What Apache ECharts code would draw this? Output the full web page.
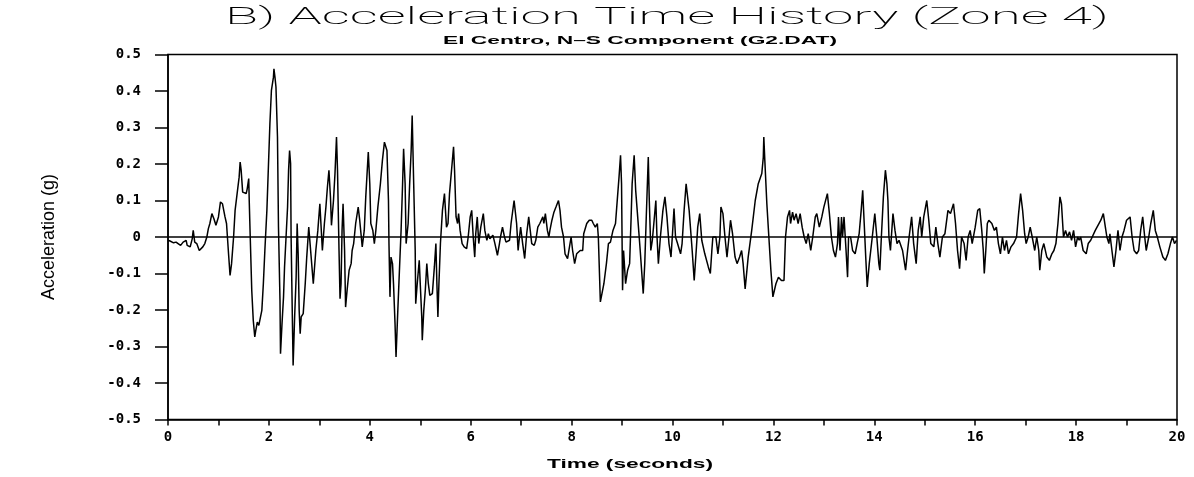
<!DOCTYPE html>
<html>
<head>
<meta charset="utf-8">
<title>Acceleration Time History</title>
<script src="https://cdn.jsdelivr.net/npm/echarts@6/dist/echarts.min.js"></script>
<style>
  html, body { margin: 0; padding: 0; background: #fff; }
  #chart { width: 1194px; height: 477px; }
</style>
</head>
<body>
<div id="chart"></div>
<script>
// El Centro 1940, N-S component: ground acceleration (g) vs time (s)
const timeSec = [
  0.00, 0.04, 0.11, 0.16, 0.20, 0.25, 0.30, 0.36, 0.38, 0.44, 0.48, 0.50, 0.53, 0.57, 0.62, 0.65, 0.69, 0.73, 0.77, 0.80, 0.83, 0.87, 0.91, 0.95,
  1.00, 1.04, 1.08, 1.13, 1.16, 1.20, 1.23, 1.26, 1.30, 1.33, 1.37, 1.41, 1.43, 1.45, 1.48, 1.51, 1.55, 1.57, 1.60, 1.61, 1.63, 1.66, 1.69, 1.72, 1.74, 1.77, 1.80, 1.82, 1.86, 1.89, 1.92, 1.96, 1.99,
  2.02, 2.05, 2.09, 2.10, 2.12, 2.14, 2.17, 2.19, 2.22, 2.23, 2.26, 2.29, 2.31, 2.34, 2.37, 2.39, 2.41, 2.43, 2.44, 2.47, 2.48, 2.51, 2.54, 2.56, 2.58, 2.60, 2.62, 2.64, 2.68, 2.72, 2.75, 2.79, 2.88, 2.93, 2.97,
  3.01, 3.06, 3.10, 3.13, 3.16, 3.19, 3.22, 3.24, 3.28, 3.31, 3.34, 3.36, 3.39, 3.41, 3.43, 3.45, 3.47, 3.50, 3.52, 3.55, 3.59, 3.63, 3.65, 3.68, 3.72, 3.77, 3.80, 3.85, 3.89, 3.92, 3.97,
  4.00, 4.02, 4.06, 4.09, 4.12, 4.16, 4.21, 4.25, 4.29, 4.31, 4.34, 4.37, 4.38, 4.40, 4.42, 4.45, 4.47, 4.50, 4.52, 4.55, 4.59, 4.62, 4.65, 4.67, 4.70, 4.72, 4.76, 4.79, 4.82, 4.84, 4.87, 4.90, 4.91, 4.94, 4.98,
  5.00, 5.03, 5.04, 5.07, 5.10, 5.13, 5.16, 5.19, 5.24, 5.28, 5.31, 5.33, 5.35, 5.37, 5.40, 5.44, 5.48, 5.52, 5.55, 5.58, 5.62, 5.66, 5.68, 5.71, 5.74, 5.76, 5.79, 5.83, 5.87, 5.92, 5.95, 5.99,
  6.02, 6.05, 6.08, 6.10, 6.13, 6.16, 6.20, 6.25, 6.28, 6.32, 6.35, 6.38, 6.44, 6.48, 6.53, 6.57, 6.59, 6.63, 6.67, 6.70, 6.77, 6.80, 6.86, 6.89, 6.91, 6.94, 6.96, 6.99,
  7.03, 7.07, 7.11, 7.15, 7.18, 7.21, 7.26, 7.29, 7.33, 7.37, 7.43, 7.45, 7.48, 7.52, 7.55, 7.57, 7.61, 7.65, 7.69, 7.74, 7.77, 7.80, 7.84, 7.87, 7.92, 7.95, 7.99,
  8.02, 8.06, 8.10, 8.17, 8.22, 8.24, 8.30, 8.35, 8.40, 8.43, 8.47, 8.51, 8.53, 8.57, 8.64, 8.69, 8.73, 8.77, 8.82, 8.87, 8.91, 8.94, 8.97, 8.99,
  9.01, 9.03, 9.07, 9.11, 9.15, 9.18, 9.20, 9.24, 9.27, 9.31, 9.36, 9.42, 9.45, 9.48, 9.52, 9.54, 9.57, 9.60, 9.63, 9.67, 9.69, 9.72, 9.76, 9.81, 9.85, 9.89, 9.93, 9.97,
  10.00, 10.03, 10.06, 10.10, 10.16, 10.19, 10.23, 10.27, 10.30, 10.33, 10.37, 10.39, 10.43, 10.47, 10.50, 10.54, 10.58, 10.64, 10.71, 10.75, 10.78, 10.80, 10.86, 10.90, 10.94, 10.96,
  11.00, 11.04, 11.08, 11.12, 11.15, 11.19, 11.24, 11.28, 11.33, 11.37, 11.40, 11.44, 11.50, 11.57, 11.64, 11.70, 11.77, 11.80, 11.81, 11.83, 11.87, 11.91, 11.95, 11.99,
  12.05, 12.10, 12.16, 12.21, 12.24, 12.28, 12.32, 12.34, 12.38, 12.41, 12.45, 12.49, 12.53, 12.57, 12.61, 12.65, 12.69, 12.74, 12.78, 12.83, 12.86, 12.91, 12.96,
  13.00, 13.07, 13.11, 13.15, 13.19, 13.23, 13.27, 13.29, 13.32, 13.35, 13.37, 13.40, 13.44, 13.47, 13.49, 13.53, 13.57, 13.62, 13.66, 13.70, 13.74, 13.77, 13.80, 13.83, 13.86, 13.90, 13.96,
  14.01, 14.05, 14.09, 14.11, 14.14, 14.18, 14.22, 14.25, 14.27, 14.29, 14.32, 14.37, 14.41, 14.45, 14.49, 14.56, 14.62, 14.66, 14.69, 14.74, 14.78, 14.83, 14.87, 14.91, 14.94, 14.98,
  15.04, 15.08, 15.12, 15.18, 15.22, 15.26, 15.30, 15.35, 15.40, 15.46, 15.51, 15.57, 15.61, 15.65, 15.69, 15.73, 15.78, 15.82, 15.86, 15.90, 15.94,
  16.00, 16.05, 16.09, 16.13, 16.16, 16.18, 16.21, 16.24, 16.27, 16.33, 16.38, 16.42, 16.46, 16.50, 16.54, 16.58, 16.62, 16.66, 16.71, 16.76, 16.82, 16.86, 16.90, 16.94, 16.98,
  17.01, 17.05, 17.09, 17.13, 17.18, 17.22, 17.26, 17.28, 17.32, 17.36, 17.42, 17.47, 17.52, 17.56, 17.60, 17.64, 17.68, 17.71, 17.75, 17.79, 17.83, 17.87, 17.91, 17.95, 17.99,
  18.03, 18.06, 18.09, 18.14, 18.20, 18.24, 18.29, 18.38, 18.49, 18.54, 18.58, 18.61, 18.65, 18.67, 18.71, 18.75, 18.79, 18.83, 18.87, 18.91, 18.95,
  19.00, 19.07, 19.11, 19.15, 19.20, 19.24, 19.28, 19.32, 19.36, 19.39, 19.44, 19.48, 19.53, 19.57, 19.61, 19.66, 19.72, 19.77, 19.82, 19.87, 19.91, 19.95, 19.99
];

const accelG = [
  -0.009, -0.011, -0.016, -0.014, -0.018, -0.023, -0.014, -0.009, -0.023, -0.027, -0.005, 0.018, -0.014, -0.018, -0.037, -0.041, -0.027, -0.018, 0.000, 0.023, 0.037, 0.064, 0.050, 0.032,
  0.055, 0.096, 0.091, 0.055, 0.037, -0.046, -0.105, -0.073, 0.000, 0.073, 0.119, 0.164, 0.205, 0.183, 0.123, 0.119, 0.119, 0.132, 0.160, 0.100, 0.000, -0.146, -0.228, -0.274, -0.256, -0.233, -0.242, -0.247, -0.201, -0.128, -0.037, 0.073, 0.192,
  0.311, 0.402, 0.438, 0.461, 0.438, 0.411, 0.274, 0.027, -0.174, -0.320, -0.237, -0.164, -0.082, 0.000, 0.082, 0.183, 0.237, 0.201, 0.000, -0.265, -0.352, -0.219, -0.110, 0.037, -0.046, -0.201, -0.265, -0.219, -0.210, -0.128, -0.055, 0.027, -0.128, -0.037, 0.018,
  0.091, -0.037, 0.037, 0.082, 0.137, 0.183, 0.110, 0.032, 0.100, 0.174, 0.274, 0.183, -0.037, -0.169, -0.128, 0.018, 0.091, -0.037, -0.192, -0.146, -0.091, -0.073, -0.037, -0.018, 0.037, 0.082, 0.046, -0.027, 0.018, 0.110, 0.233,
  0.146, 0.037, 0.018, -0.018, 0.018, 0.082, 0.146, 0.210, 0.260, 0.265, 0.237, 0.100, -0.018, -0.164, -0.055, -0.073, -0.128, -0.237, -0.329, -0.219, -0.082, 0.018, 0.146, 0.242, 0.146, -0.018, 0.037, 0.146, 0.237, 0.333, 0.146, -0.037, -0.183, -0.128, -0.064,
  -0.128, -0.219, -0.283, -0.201, -0.146, -0.073, -0.128, -0.160, -0.155, -0.082, -0.018, -0.128, -0.219, -0.128, -0.018, 0.073, 0.119, 0.027, 0.037, 0.119, 0.183, 0.247, 0.183, 0.055, 0.037, 0.064, 0.018, -0.018, -0.027, -0.032, 0.000, 0.055,
  0.073, 0.000, -0.055, 0.009, 0.055, -0.018, 0.027, 0.064, 0.018, -0.009, 0.009, -0.005, 0.005, -0.018, -0.050, -0.018, 0.000, 0.027, 0.000, -0.014, -0.009, 0.037, 0.100, 0.105, 0.037, -0.037, -0.009, 0.027,
  -0.018, -0.059, 0.009, 0.055, 0.018, -0.018, -0.023, -0.009, 0.027, 0.037, 0.055, 0.037, 0.064, 0.018, 0.000, 0.018, 0.046, 0.068, 0.082, 0.100, 0.073, 0.027, 0.000, -0.046, -0.059, -0.064, 0.000,
  -0.037, -0.073, -0.046, -0.037, -0.037, 0.009, 0.037, 0.046, 0.046, 0.037, 0.027, 0.037, 0.000, -0.178, -0.128, -0.073, -0.018, -0.014, 0.018, 0.037, 0.110, 0.164, 0.224, 0.146,
  -0.146, -0.037, -0.128, -0.091, -0.073, 0.055, 0.146, 0.224, 0.128, 0.055, -0.037, -0.155, -0.073, 0.055, 0.219, 0.100, -0.037, -0.009, 0.037, 0.100, 0.009, -0.073, 0.000, 0.073, 0.110, 0.055, -0.018, -0.055,
  0.009, 0.078, 0.000, -0.018, -0.046, -0.018, 0.073, 0.146, 0.151, 0.073, 0.000, -0.037, -0.119, -0.037, 0.027, 0.064, -0.009, -0.046, -0.082, -0.100, -0.037, 0.000, 0.000, -0.046, 0.000, 0.082,
  0.064, 0.000, -0.055, 0.000, 0.046, 0.009, -0.055, -0.073, -0.055, -0.037, -0.073, -0.142, -0.055, 0.018, 0.100, 0.146, 0.174, 0.219, 0.274, 0.210, 0.091, 0.000, -0.091, -0.164,
  -0.128, -0.110, -0.119, -0.119, 0.000, 0.055, 0.073, 0.037, 0.068, 0.046, 0.064, 0.037, 0.064, 0.027, 0.000, -0.018, 0.009, -0.037, 0.000, 0.055, 0.064, 0.027, 0.055,
  0.082, 0.119, 0.064, 0.000, -0.037, -0.055, -0.018, 0.055, -0.037, 0.055, 0.000, 0.055, -0.037, -0.110, 0.000, 0.000, -0.037, -0.046, -0.018, 0.009, 0.073, 0.128, 0.037, -0.055, -0.137, -0.073, 0.000,
  0.064, 0.000, -0.073, -0.091, 0.000, 0.110, 0.183, 0.146, 0.100, 0.000, -0.037, 0.064, 0.018, -0.018, -0.009, -0.037, -0.091, -0.037, 0.000, 0.055, -0.018, -0.073, 0.018, 0.055, 0.000, 0.055,
  0.100, 0.046, -0.018, -0.027, 0.027, -0.018, -0.055, 0.000, 0.009, 0.073, 0.064, 0.091, 0.037, -0.037, -0.087, 0.000, -0.018, -0.064, 0.000, 0.018, -0.018,
  0.027, 0.073, 0.078, 0.018, -0.037, -0.100, -0.037, 0.037, 0.046, 0.037, 0.018, 0.027, -0.018, -0.046, 0.000, -0.037, -0.009, -0.046, -0.027, -0.018, 0.000, 0.064, 0.119, 0.073, 0.009,
  -0.018, 0.000, 0.027, 0.000, -0.037, 0.000, -0.037, -0.091, -0.037, -0.018, -0.055, -0.064, -0.046, -0.037, -0.018, 0.037, 0.110, 0.091, 0.000, 0.018, 0.000, 0.014, -0.009, 0.018, -0.027,
  0.000, -0.009, 0.000, -0.037, -0.046, -0.018, -0.009, 0.018, 0.046, 0.064, 0.027, 0.000, -0.018, 0.009, -0.037, -0.082, -0.037, 0.018, -0.037, 0.000, 0.018,
  0.046, 0.055, 0.000, -0.037, -0.046, -0.037, 0.018, 0.055, 0.000, -0.037, 0.000, 0.037, 0.073, 0.018, 0.000, -0.027, -0.055, -0.064, -0.046, -0.018, 0.000, -0.018, -0.009
];

// Axis settings
const timeMin = 0, timeMax = 20, timeStep = 2;
const accelMin = -0.5, accelMax = 0.5, accelStep = 0.1;

const titleText = 'B) Acceleration Time History (Zone 4)';
const subtitleText = 'El Centro, N\u2013S Component (G2.DAT)';
const xAxisTitle = 'Time (seconds)';
const yAxisTitle = 'Acceleration (g)';

const points = timeSec.map((t, i) => [t, accelG[i]]);

// Wide plotter-style lettering: stretch a text horizontally to a target width
const measureCtx = document.createElement('canvas').getContext('2d');
function wideText(text, font, cx, cy, width) {
  measureCtx.font = font;
  const natural = measureCtx.measureText(text).width;
  return {
    type: 'text',
    x: cx,
    y: cy,
    scaleX: width / natural,
    silent: true,
    style: {
      text: text,
      font: font,
      fill: '#000',
      align: 'center',
      verticalAlign: 'middle',
      textAlign: 'center',
      textVerticalAlign: 'middle'
    }
  };
}

const chart = echarts.init(document.getElementById('chart'), null, { renderer: 'canvas' });

const tickFont = '"DejaVu Sans Mono", monospace';

chart.setOption({
  animation: false,
  backgroundColor: '#fff',
  grid: {
    left: 168,
    right: 17,
    top: 54.5,
    bottom: 57.5,
    show: true,
    borderColor: '#000',
    borderWidth: 1.5,
    backgroundColor: 'transparent'
  },
  graphic: [
    wideText(titleText, '200 24px Roboto', 667, 18, 884),
    wideText(subtitleText, 'bold 11px "Liberation Sans"', 640, 41, 394),
    wideText(xAxisTitle, 'bold 12px "Liberation Sans"', 630, 465, 166)
  ],
  xAxis: {
    type: 'value',
    min: timeMin,
    max: timeMax,
    interval: timeStep,
    axisLine: { show: true, onZero: false, lineStyle: { color: '#000', width: 1.5 } },
    axisTick: { show: true, length: 6, lineStyle: { color: '#000', width: 1.5 } },
    minorTick: { show: true, splitNumber: 2, length: 6, lineStyle: { color: '#000', width: 1.5 } },
    splitLine: { show: false },
    axisLabel: {
      color: '#000',
      fontFamily: tickFont,
      fontWeight: 'bold',
      fontSize: 14,
      margin: 11
    }
  },
  yAxis: {
    type: 'value',
    min: accelMin,
    max: accelMax,
    interval: accelStep,
    name: yAxisTitle,
    nameLocation: 'middle',
    nameRotate: 90,
    nameGap: 110,
    nameTextStyle: {
      color: '#000',
      fontFamily: '"Liberation Sans Narrow", "Liberation Sans", sans-serif',
      fontSize: 18
    },
    axisLine: { show: true, onZero: false, lineStyle: { color: '#000', width: 1.5 } },
    axisTick: { show: true, length: 13, lineStyle: { color: '#000', width: 1.5 } },
    splitLine: { show: false },
    axisLabel: {
      color: '#000',
      fontFamily: tickFont,
      fontWeight: 'bold',
      fontSize: 14,
      margin: 27
    }
  },
  series: [{
    type: 'line',
    data: points,
    showSymbol: false,
    symbol: 'none',
    lineStyle: { color: '#000', width: 1.5 },
    markLine: {
      silent: true,
      symbol: 'none',
      label: { show: false },
      lineStyle: { color: '#000', width: 1.5, type: 'solid' },
      data: [{ yAxis: 0 }]
    }
  }]
});
</script>
</body>
</html>
